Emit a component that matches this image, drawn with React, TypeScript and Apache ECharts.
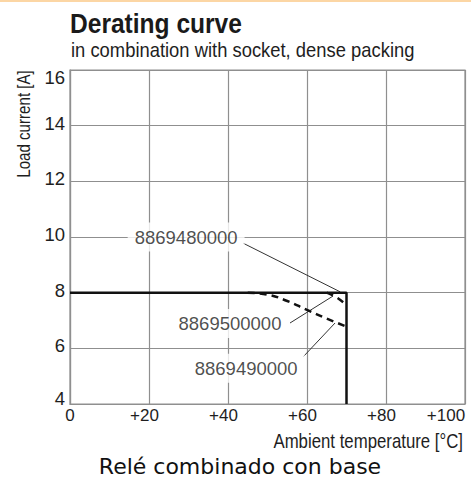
import React, { useEffect, useRef } from "react";
import * as echarts from "echarts";

// ---- data ----
const solidX = [0, 70, 70];
const solidY = [8, 8, 4];
const dashAX = [65, 67.5, 70];
const dashAY = [8, 7.83, 7.55];
const dashBX = [45, 50, 55, 60, 65, 70];
const dashBY = [8, 7.93, 7.7, 7.38, 7.07, 6.78];

const labelNames = ["8869480000", "8869500000", "8869490000"];
const labelX = [29.4, 40.5, 44.6];
const labelY = [10, 6.89, 5.28];
const leaderFromX = [43.8, 55.7, 59.0];
const leaderFromY = [9.78, 6.91, 5.69];
const leaderToX = [68.4, 66.6, 67.1];
const leaderToY = [8.03, 7.88, 6.91];

const xMin = 0;
const xMax = 100;
const xStep = 20;
const yMin = 4;
const yMax = 16;
const yStep = 2;

const title = "Derating curve";
const subtitle = "in combination with socket, dense packing";
const yName = "Load current [A]";
const xName = "Ambient temperature [°C]";
const caption = "Relé combinado con base";

const SANS = '"Liberation Sans", Arial, Helvetica, sans-serif';
const WIDE = '"DejaVu Sans", Verdana, sans-serif';
const GRID = "#8f8f8f";
const INK = "#1e1e1e";

const zip = (xs: number[], ys: number[]) => xs.map((x, i) => [x, ys[i]]);

export default function App() {
  const ref = useRef<HTMLDivElement>(null);
  useEffect(() => {
    if (!ref.current) return;
    const chart = echarts.init(ref.current, undefined, { renderer: "svg" });
    const leaderSeries = labelNames.map((n, i) => ({
      type: "line",
      name: "leader-" + n,
      data: [
        [leaderFromX[i], leaderFromY[i]],
        [leaderToX[i], leaderToY[i]],
      ],
      symbol: "none",
      lineStyle: { color: "#333", width: 1 },
      z: 3,
      silent: true,
    }));
    chart.setOption({
      animation: false,
      grid: {
        left: 70,
        top: 70,
        width: 395,
        height: 334,
        show: true,
        borderColor: GRID,
        borderWidth: 1.2,
      },
      xAxis: {
        type: "value",
        min: xMin,
        max: xMax,
        interval: xStep,
        axisLine: { lineStyle: { color: GRID, width: 1.2 } },
        axisTick: { show: false },
        splitLine: { lineStyle: { color: GRID, width: 1.2 } },
        axisLabel: {
          margin: 3,
          color: INK,
          fontFamily: SANS,
          fontSize: 17,
          formatter: (v: number) =>
            v === 0 ? "{z|0}" : v === xMax ? "{e|+" + v + "}" : "{n|+" + v + "}",
          rich: {
            z: { fontFamily: SANS, fontSize: 17, color: INK },
            n: { fontFamily: SANS, fontSize: 17, color: INK, padding: [0, 9, 0, 0] },
            e: { fontFamily: SANS, fontSize: 17, color: INK, padding: [0, 38, 0, 0] },
          },
        },
      },
      yAxis: {
        type: "value",
        min: yMin,
        max: yMax,
        interval: yStep,
        axisLine: { show: true, lineStyle: { color: GRID, width: 1.2 } },
        axisTick: { show: false },
        splitLine: { lineStyle: { color: GRID, width: 1.2 } },
        axisLabel: {
          margin: 5,
          color: INK,
          fontFamily: SANS,
          fontSize: 18.5,
          formatter: (v: number) =>
            v === yMax ? "{t|" + v + "}" : v === yMin ? "{b|" + v + "}" : "{n|" + v + "}",
          rich: {
            n: { fontFamily: SANS, fontSize: 18.5, color: INK, padding: [0, 0, 5, 0] },
            t: { fontFamily: SANS, fontSize: 18.5, color: INK, padding: [14, 0, 0, 0] },
            b: { fontFamily: SANS, fontSize: 18.5, color: INK, padding: [0, 0, 12, 0] },
          },
        },
      },
      series: [
        {
          type: "line",
          name: labelNames[0],
          data: zip(solidX, solidY),
          symbol: "none",
          lineStyle: { color: "#111", width: 2.5 },
          z: 5,
        },
        {
          type: "line",
          name: labelNames[1],
          data: zip(dashAX, dashAY),
          symbol: "none",
          smooth: true,
          lineStyle: { color: "#111", width: 2.5, type: [7, 5] },
          z: 4,
        },
        {
          type: "line",
          name: labelNames[2],
          data: zip(dashBX, dashBY),
          symbol: "none",
          smooth: true,
          lineStyle: { color: "#111", width: 2.5, type: [7, 5] },
          z: 4,
        },
        ...leaderSeries,
        {
          type: "scatter",
          name: "labels",
          symbolSize: 0,
          data: labelNames.map((n, i) => [labelX[i], labelY[i], n]),
          z: 6,
          silent: true,
          label: {
            show: true,
            position: "inside",
            formatter: (p: any) => p.data[2],
            fontFamily: SANS,
            fontSize: 18.5,
            color: INK,
            backgroundColor: "#ffffff",
            padding: [5, 7, 5, 7],
          },
        },
      ],
      graphic: [
        {
          type: "rect",
          shape: { x: 0, y: 0, width: 471, height: 2 },
          style: { fill: "#fcd6a4" },
        },
        {
          type: "text",
          x: 70,
          y: 23.5,
          scaleX: 0.877,
          style: {
            text: title,
            fill: "#1a1a1a",
            font: "bold 28px " + SANS,
            align: "left",
            verticalAlign: "middle",
          },
        },
        {
          type: "text",
          x: 71,
          y: 50.5,
          scaleX: 0.92,
          style: {
            text: subtitle,
            fill: INK,
            font: "20px " + SANS,
            align: "left",
            verticalAlign: "middle",
          },
        },
        {
          type: "text",
          x: 24.5,
          y: 124,
          rotation: Math.PI / 2,
          scaleX: 0.84,
          style: {
            text: yName,
            fill: INK,
            font: "18px " + SANS,
            align: "center",
            verticalAlign: "middle",
          },
        },
        {
          type: "text",
          x: 463,
          y: 441,
          scaleX: 0.84,
          style: {
            text: xName,
            fill: INK,
            font: "20px " + SANS,
            align: "right",
            verticalAlign: "middle",
          },
        },
        {
          type: "text",
          x: 240,
          y: 466,
          style: {
            text: caption,
            fill: "#111",
            font: "22px " + WIDE,
            align: "center",
            verticalAlign: "middle",
          },
        },
      ],
    });
    return () => chart.dispose();
  }, []);
  return (
    <div
      ref={ref}
      style={{ position: "absolute", left: 0, top: 0, width: 471, height: 479, background: "#fff" }}
    />
  );
}
